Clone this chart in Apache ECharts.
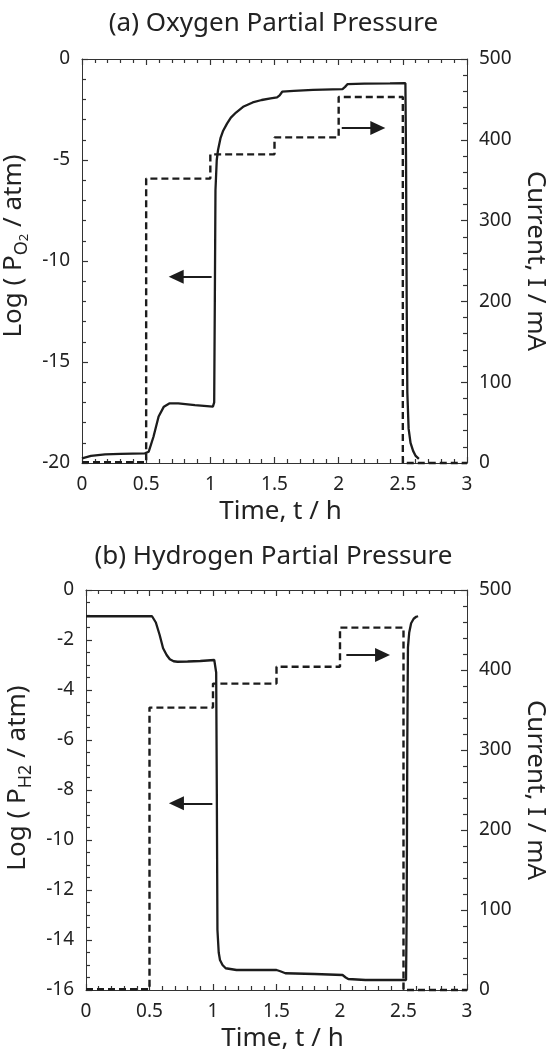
<!DOCTYPE html>
<html><head><meta charset="utf-8">
<script src="https://cdn.jsdelivr.net/npm/echarts@6/dist/echarts.min.js"></script>
<style>html,body{margin:0;padding:0;background:#fff}#c{width:547px;height:1059px}</style>
</head><body><div id="c"></div>
<script>
// ---- data ----
const timeTicks = [0, 0.5, 1, 1.5, 2, 2.5, 3];

// (a) oxygen: log(PO2 / atm) vs time
const o2Time = [0, 0.07, 0.18, 0.30, 0.49, 0.52, 0.557, 0.597, 0.638, 0.68,
  0.75, 0.88, 1.02, 1.03, 1.035, 1.04, 1.05, 1.06, 1.08, 1.10,
  1.13, 1.16, 1.20, 1.26, 1.33, 1.40, 1.47, 1.52, 1.54, 1.56,
  1.65, 1.80, 2.03, 2.05, 2.07, 2.20, 2.40, 2.52, 2.525, 2.53,
  2.535, 2.545, 2.56, 2.58, 2.60, 2.625];
const o2Log = [-19.77, -19.65, -19.57, -19.55, -19.52, -19.44, -18.7, -17.7, -17.21, -17.05,
  -17.05, -17.13, -17.21, -17.0, -12.0, -6.5, -5.0, -4.5, -3.9, -3.55,
  -3.2, -2.9, -2.65, -2.35, -2.15, -2.03, -1.95, -1.9, -1.8, -1.62,
  -1.58, -1.53, -1.49, -1.38, -1.24, -1.22, -1.21, -1.2, -5.0, -12.0,
  -16.5, -18.3, -19.0, -19.4, -19.65, -19.8];

// (b) hydrogen: log(PH2 / atm) vs time
const h2Time = [0, 0.3, 0.52, 0.55, 0.58, 0.607, 0.635, 0.66, 0.69, 0.72,
  0.8, 0.9, 1.01, 1.025, 1.03, 1.035, 1.045, 1.055, 1.075, 1.10,
  1.185, 1.50, 1.53, 1.57, 1.80, 2.02, 2.045, 2.065, 2.20, 2.52,
  2.525, 2.53, 2.535, 2.545, 2.56, 2.58, 2.60, 2.615];
const h2Log = [-1.05, -1.05, -1.05, -1.3, -1.8, -2.33, -2.6, -2.77, -2.85, -2.87,
  -2.86, -2.84, -2.8, -3.3, -8.0, -13.6, -14.5, -14.8, -15.0, -15.13,
  -15.2, -15.2, -15.25, -15.33, -15.36, -15.4, -15.5, -15.56, -15.6, -15.6,
  -13.0, -6.0, -2.3, -1.7, -1.33, -1.15, -1.07, -1.05];

// applied current (step changes), mA
const stepTime = [0, 0.5, 1.0, 1.5, 2.0, 2.5, 3.0];
const o2Current = [1, 352, 382, 403, 453, 0, 0];
const h2Current = [1, 353, 383, 404, 453, 0, 0];

// annotation arrows: [tail, head-centre] in data coordinates
const o2ArrowLeft = [[1.01, -10.78], [0.734, -10.78]];
const o2ArrowRight = [[2.024, 414.5], [2.305, 414.5]];
const h2ArrowLeft = [[0.995, -8.53], [0.712, -8.53]];
const h2ArrowRight = [[2.05, 418.7], [2.335, 418.7]];

// ---- chart ----
const FONT = 'Noto Sans';
const AX = '#333';
const INK = '#1c1c1c';
const zip = (a, b) => a.map((v, i) => [v, b[i]]);

function xAx(grid, pos, showLabel) {
  return {
    type: 'value', gridIndex: grid, position: pos, min: timeTicks[0], max: timeTicks[timeTicks.length - 1], interval: 0.5,
    axisLine: { show: true, onZero: false, lineStyle: { color: AX, width: 1 } },
    axisTick: { show: true, inside: true, length: 6, lineStyle: { color: AX, width: 1.2 } },
    minorTick: { show: true, splitNumber: 5, length: 4, lineStyle: { color: AX, width: 1.2 } },
    splitLine: { show: false },
    axisLabel: { show: showLabel, margin: 12, fontSize: 19, fontFamily: FONT, color: '#222' },
    name: showLabel ? 'Time, t / h' : '', nameLocation: 'middle', nameGap: 36,
    nameTextStyle: { fontSize: 26, fontFamily: FONT, color: '#222', padding: [0, 0, 0, 12] }
  };
}
function yAx(grid, pos, min, max, interval, minor, name, extra) {
  return Object.assign({
    type: 'value', gridIndex: grid, position: pos, min: min, max: max, interval: interval,
    axisLine: { show: true, onZero: false, lineStyle: { color: AX, width: 1 } },
    axisTick: { show: true, inside: true, length: 6, lineStyle: { color: AX, width: 1.2 } },
    minorTick: { show: true, splitNumber: minor, length: 4, lineStyle: { color: AX, width: 1.2 } },
    splitLine: { show: false },
    axisLabel: { show: true, margin: 12, fontSize: 19, fontFamily: FONT, color: '#222' },
    name: name, nameLocation: 'middle'
  }, extra);
}
function subRich() {
  return {
    n: { fontSize: 26, lineHeight: 36, fontFamily: FONT, color: '#222' },
    s: { fontSize: 18, lineHeight: 20, verticalAlign: 'bottom', fontFamily: FONT, color: '#222' },
    ss: { fontSize: 13, lineHeight: 6, verticalAlign: 'bottom', fontFamily: FONT, color: '#222' }
  };
}
function arrow(pts) {
  return {
    silent: true, symbol: ['none', 'triangle'], symbolSize: [14, 15],
    label: { show: false },
    lineStyle: { type: 'solid', width: 2, color: INK },
    itemStyle: { color: INK },
    data: [[{ coord: pts[0] }, { coord: pts[1] }]]
  };
}
const solid = { color: INK, width: 2.3, type: 'solid' };
const dashed = { color: INK, width: 2.4, type: [7, 4] };

const option = {
  animation: false,
  backgroundColor: '#fff',
  textStyle: { fontFamily: FONT, color: '#222' },
  title: [
    { text: '(a) Oxygen Partial Pressure', left: 'center', top: 11, padding: 0,
      textStyle: { fontSize: 26, fontWeight: 'normal', fontFamily: FONT, color: '#222' } },
    { text: '(b) Hydrogen Partial Pressure', left: 'center', top: 544, padding: 0,
      textStyle: { fontSize: 26, fontWeight: 'normal', fontFamily: FONT, color: '#222' } }
  ],
  grid: [
    { left: 82, top: 59, width: 385, height: 404, containLabel: false, outerBoundsMode: 'none' },
    { left: 86, top: 590, width: 381, height: 400, containLabel: false, outerBoundsMode: 'none' }
  ],
  xAxis: [xAx(0, 'bottom', true), xAx(0, 'top', false), xAx(1, 'bottom', true), xAx(1, 'top', false)],
  yAxis: [
    yAx(0, 'left', -20, 0, 5, 5, '{n|Log ( P}{s|O}{ss|2}{n| / atm)}',
      { nameGap: 37, nameTextStyle: { padding: [0, 0, 0, 30], rich: subRich() } }),
    yAx(0, 'right', 0, 500, 100, 5, 'Current, I / mA',
      { nameGap: 39, nameRotate: -90, nameTextStyle: { fontSize: 26, fontFamily: FONT, color: '#222' } }),
    yAx(1, 'left', -16, 0, 2, 4, '{n|Log ( P}{s|H2}{n| / atm)}',
      { nameGap: 37, nameTextStyle: { padding: [0, 0, 0, 24], rich: subRich() } }),
    yAx(1, 'right', 0, 500, 100, 5, 'Current, I / mA',
      { nameGap: 39, nameRotate: -90, nameTextStyle: { fontSize: 26, fontFamily: FONT, color: '#222' } })
  ],
  series: [
    { type: 'line', xAxisIndex: 0, yAxisIndex: 0, data: zip(o2Time, o2Log), showSymbol: false, lineStyle: solid, markLine: arrow(o2ArrowLeft) },
    { type: 'line', xAxisIndex: 0, yAxisIndex: 1, data: zip(stepTime, o2Current), step: 'end', clip: false, showSymbol: false, lineStyle: dashed, markLine: arrow(o2ArrowRight) },
    { type: 'line', xAxisIndex: 2, yAxisIndex: 2, data: zip(h2Time, h2Log), showSymbol: false, lineStyle: solid, markLine: arrow(h2ArrowLeft) },
    { type: 'line', xAxisIndex: 2, yAxisIndex: 3, data: zip(stepTime, h2Current), step: 'end', clip: false, showSymbol: false, lineStyle: dashed, markLine: arrow(h2ArrowRight) }
  ]
};
echarts.init(document.getElementById('c')).setOption(option);
</script></body></html>
